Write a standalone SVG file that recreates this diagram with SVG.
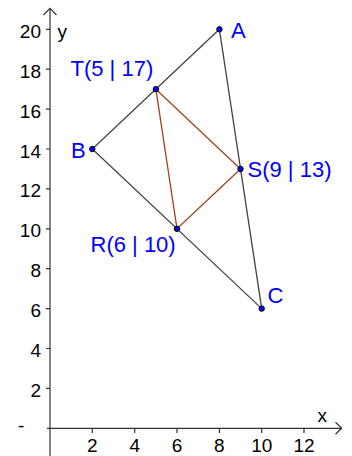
<svg xmlns="http://www.w3.org/2000/svg" width="352" height="456" viewBox="0 0 352 456">
<style>
.ax{stroke:#333;stroke-width:1.2;fill:none}
.tl{font-family:"Liberation Sans",Arial,sans-serif;font-size:19px;fill:#000}
.pl{font-family:"Liberation Sans",Arial,sans-serif;font-size:22px;fill:#0000ff}
.tri{stroke:#444;stroke-width:1.3;fill:none}
.in{stroke:#a0421a;stroke-width:1.3;fill:none}
.pt{fill:#0000ff;stroke:#000;stroke-width:1}
</style>
<rect width="352" height="456" fill="#fff"/>
<g id="axes">
<path class="ax" d="M50 8.3V456M47 428.3H341.7"/>
<path class="ax" d="M43.5 15L50 8.3L56.5 15M335.5 422.3L341.7 428.3L335.5 434.3"/>
<path class="ax" d="M46 388.4H50M46 348.5H50M46 308.6H50M46 268.7H50M46 228.8H50M46 188.9H50M46 149H50M46 109.1H50M46 69.2H50M46 29.3H50"/>
<path class="ax" d="M92.3 428.3V433M134.7 428.3V433M177 428.3V433M219.4 428.3V433M261.7 428.3V433M304 428.3V433"/>
<g class="tl" text-anchor="end">
<text x="41" y="396.9">2</text>
<text x="41" y="357">4</text>
<text x="41" y="317.1">6</text>
<text x="41" y="277.2">8</text>
<text x="41" y="237.3">10</text>
<text x="41" y="197.4">12</text>
<text x="41" y="157.5">14</text>
<text x="41" y="117.6">16</text>
<text x="41" y="77.7">18</text>
<text x="41" y="37.8">20</text>
</g>
<g class="tl" text-anchor="middle">
<text x="92.3" y="451.5">2</text>
<text x="134.7" y="451.5">4</text>
<text x="177" y="451.5">6</text>
<text x="219.4" y="451.5">8</text>
<text x="261.7" y="451.5">10</text>
<text x="304" y="451.5">12</text>
</g>
<text class="tl" x="18" y="432">-</text>
<text class="tl" x="57.5" y="37.5">y</text>
<text class="tl" x="317.5" y="421.7">x</text>
</g>
<g id="connectors">
<path class="tri" d="M219.4 29.3L92.3 149L261.7 308.6Z"/>
<path class="in" d="M155.9 89.2L240.5 169L177 228.8Z"/>
</g>
<g id="A"><circle class="pt" cx="219.4" cy="29.3" r="2.7"/><text class="pl" x="231" y="38.3">A</text></g>
<g id="B"><circle class="pt" cx="92.3" cy="149" r="2.7"/><text class="pl" x="71" y="157.5">B</text></g>
<g id="C"><circle class="pt" cx="261.7" cy="308.6" r="2.7"/><text class="pl" x="267.5" y="303.3">C</text></g>
<g id="T"><circle class="pt" cx="155.9" cy="89.2" r="2.7"/><text class="pl" x="70.5" y="76">T(5 | 17)</text></g>
<g id="S"><circle class="pt" cx="240.5" cy="169" r="2.7"/><text class="pl" x="247.5" y="176.7">S(9 | 13)</text></g>
<g id="R"><circle class="pt" cx="177" cy="228.8" r="2.7"/><text class="pl" x="90.5" y="251.7">R(6 | 10)</text></g>
</svg>
